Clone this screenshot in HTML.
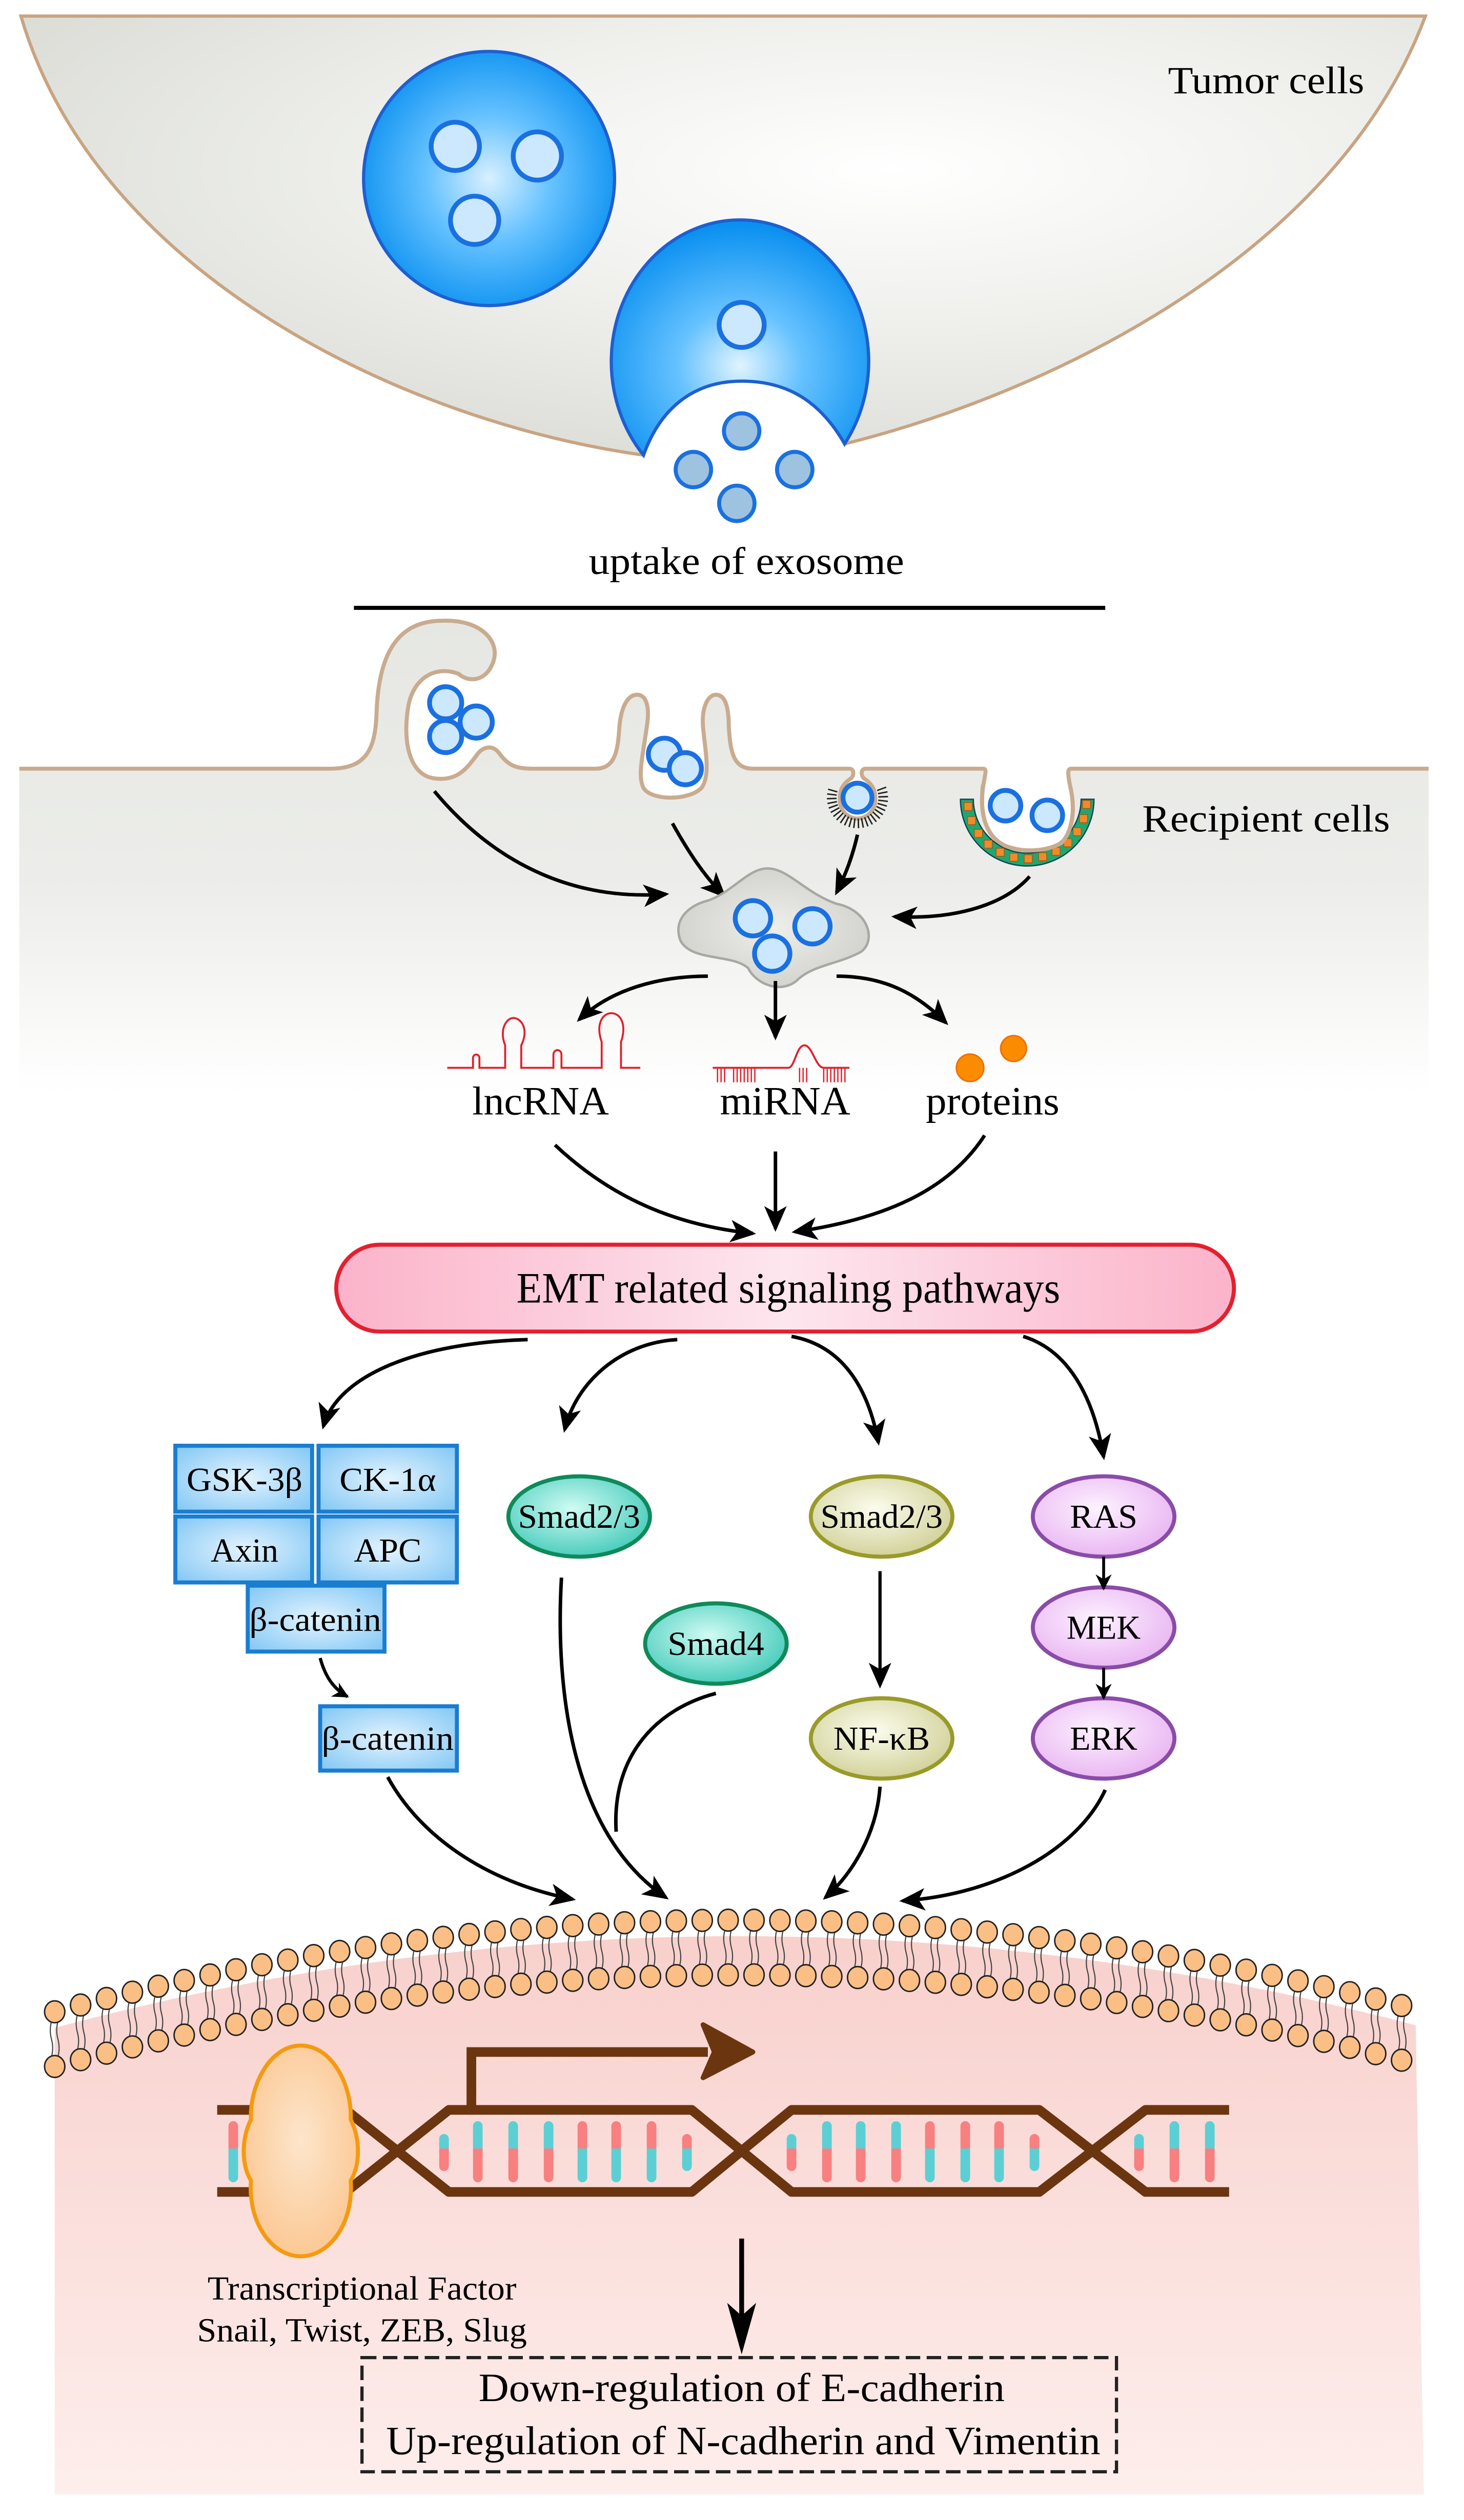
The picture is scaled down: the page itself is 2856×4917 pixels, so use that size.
<!DOCTYPE html>
<html><head><meta charset="utf-8">
<style>
html,body{margin:0;padding:0;background:#fff;}
svg{display:block;}
text{font-family:"Liberation Serif","Times New Roman",serif;fill:#000;}
</style></head>
<body>
<svg id="s" xmlns="http://www.w3.org/2000/svg" width="2856" height="4917" viewBox="0 0 910 1567" preserveAspectRatio="none">
<defs>
<radialGradient id="tumorG" cx="0.62" cy="0.35" r="0.7">
<stop offset="0" stop-color="#ffffff"/><stop offset="0.5" stop-color="#eff0ec"/><stop offset="1" stop-color="#dcddd7"/>
</radialGradient>
<radialGradient id="sphG" cx="0.5" cy="0.5" r="0.55">
<stop offset="0" stop-color="#d8f0ff"/><stop offset="0.45" stop-color="#66c2ff"/><stop offset="1" stop-color="#0a90f0"/>
</radialGradient>
<radialGradient id="sph2G" cx="0.5" cy="0.62" r="0.6">
<stop offset="0" stop-color="#e0f4ff"/><stop offset="0.4" stop-color="#66c2ff"/><stop offset="1" stop-color="#0a90f0"/>
</radialGradient>
<linearGradient id="recG" x1="0" y1="0" x2="0" y2="1">
<stop offset="0" stop-color="#e6e7e2"/><stop offset="0.55" stop-color="#ecedea"/><stop offset="1" stop-color="#ffffff"/>
</linearGradient>
<radialGradient id="endoG" cx="0.5" cy="0.5" r="0.6">
<stop offset="0" stop-color="#eeeeea"/><stop offset="1" stop-color="#cfcfca"/>
</radialGradient>
<linearGradient id="emtG" x1="0" y1="0" x2="1" y2="0">
<stop offset="0" stop-color="#fbb3ca"/><stop offset="0.5" stop-color="#fde6ee"/><stop offset="1" stop-color="#fbb3ca"/>
</linearGradient>
<radialGradient id="boxG" cx="0.5" cy="0.5" r="0.7">
<stop offset="0" stop-color="#e4f4ff"/><stop offset="1" stop-color="#80c6f4"/>
</radialGradient>
<radialGradient id="tealG" cx="0.45" cy="0.4" r="0.65">
<stop offset="0" stop-color="#d0fbf4"/><stop offset="1" stop-color="#40c9b8"/>
</radialGradient>
<radialGradient id="oliveG" cx="0.45" cy="0.4" r="0.65">
<stop offset="0" stop-color="#fcfcee"/><stop offset="1" stop-color="#cfcf95"/>
</radialGradient>
<radialGradient id="purpG" cx="0.45" cy="0.4" r="0.65">
<stop offset="0" stop-color="#fdf2ff"/><stop offset="1" stop-color="#e8b2f2"/>
</radialGradient>
<linearGradient id="pinkG" x1="0" y1="0" x2="0" y2="1">
<stop offset="0" stop-color="#f8d0cc"/><stop offset="1" stop-color="#fdeeec"/>
</linearGradient>
<radialGradient id="tfG" cx="0.5" cy="0.45" r="0.6">
<stop offset="0" stop-color="#fde6cc"/><stop offset="1" stop-color="#fbc690"/>
</radialGradient>
<marker id="ah" markerUnits="userSpaceOnUse" markerWidth="18" markerHeight="16" refX="14" refY="7" orient="auto">
<path d="M0,0 L16,7 L0,14 L4,7 Z" fill="#000"/>
</marker>
<marker id="ahs" markerUnits="userSpaceOnUse" markerWidth="12" markerHeight="12" refX="9" refY="5" orient="auto">
<path d="M0,0 L10,5 L0,10 L3,5 Z" fill="#000"/>
</marker>
</defs>

<path d="M13,10 C60,170 250,262 400,283 C410,255 430,237 461,237 C490,237 510,250 525,276 C650,245 830,160 886,10 Z" fill="url(#tumorG)" stroke="#c8a482" stroke-width="2"/>
<text x="787" y="58" font-size="24" text-anchor="middle" textLength="122" lengthAdjust="spacingAndGlyphs">Tumor cells</text>

<ellipse cx="304" cy="111" rx="78" ry="79" fill="url(#sphG)" stroke="#1e5fd0" stroke-width="2"/>
<g fill="#cce8ff" stroke="#1a70e0" stroke-width="3">
<circle cx="283" cy="91" r="15"/><circle cx="334" cy="97" r="15"/><circle cx="295" cy="137" r="15"/>
</g>
<path d="M400,283 A80,88 0 1 1 525,276 C510,250 490,237 461,237 C430,237 410,255 400,283 Z" fill="url(#sph2G)" stroke="#1e5fd0" stroke-width="2"/>
<circle cx="461" cy="202" r="14" fill="#cce8ff" stroke="#1a70e0" stroke-width="3"/>
<g fill="#9ec3e0" stroke="#1a70e0" stroke-width="2.5">
<circle cx="461" cy="268" r="11"/><circle cx="431" cy="292" r="11"/><circle cx="494" cy="292" r="11"/><circle cx="458" cy="313" r="11"/>
</g>
<text x="464" y="357" font-size="24" text-anchor="middle" textLength="196" lengthAdjust="spacingAndGlyphs">uptake of exosome</text>
<line x1="220" y1="378" x2="687" y2="378" stroke="#000" stroke-width="2.5"/>

<path d="M12,478 H205 C226,478 233,468 234,445 C235,405 248,386 275,386 C300,385 312,400 306,413 C302,423 292,425 285,419 C272,414 258,420 254,438 C250,460 254,482 270,484 C284,486 290,478 296,470 C300,464 306,463 310,468 C316,476 320,478 332,478 H370 C382,478 384,468 385,452 C386,440 390,432 396,432 C402,432 404,440 402,452 C400,468 396,482 400,490 C405,498 428,498 436,490 C442,482 438,465 437,452 C436,440 440,432 445,432 C451,432 453,440 453,452 C454,468 456,478 468,478 H528 C531,478 531,482 529,484 C523,488 522,492 522,497 C522,505 528,509 533,509 C538,509 544,505 544,497 C544,492 543,488 537,484 C535,482 535,478 538,478 H611 C614,478 612,482 611,490 C609,505 612,520 625,526 C635,530 650,530 660,524 C668,515 668,500 665,488 C664,482 663,478 666,478 H888 V680 H12 Z" fill="url(#recG)"/>
<path d="M12,478 H205 C226,478 233,468 234,445 C235,405 248,386 275,386 C300,385 312,400 306,413 C302,423 292,425 285,419 C272,414 258,420 254,438 C250,460 254,482 270,484 C284,486 290,478 296,470 C300,464 306,463 310,468 C316,476 320,478 332,478 H370 C382,478 384,468 385,452 C386,440 390,432 396,432 C402,432 404,440 402,452 C400,468 396,482 400,490 C405,498 428,498 436,490 C442,482 438,465 437,452 C436,440 440,432 445,432 C451,432 453,440 453,452 C454,468 456,478 468,478 H528 C531,478 531,482 529,484 C523,488 522,492 522,497 C522,505 528,509 533,509 C538,509 544,505 544,497 C544,492 543,488 537,484 C535,482 535,478 538,478 H611 C614,478 612,482 611,490 C609,505 612,520 625,526 C635,530 650,530 660,524 C668,515 668,500 665,488 C664,482 663,478 666,478 H888" fill="none" stroke="#c9ab8f" stroke-width="2.5"/>
<g id="comb" stroke="#222" stroke-width="0.9"></g>
<path d="M597,497 A41.5,41.5 0 0 0 680,497 L672,497 A33.5,33.5 0 0 1 605,497 Z" fill="#1ea870" stroke="#145" stroke-width="0.8"/>
<g id="orange" fill="#f08a2a" stroke="#a05010" stroke-width="0.4"></g>
<path d="M611,488 C609,505 612,520 625,526 C635,530 650,530 660,524 C668,515 668,500 665,488" fill="none" stroke="#c9ab8f" stroke-width="2.5"/>
<g fill="#cce8ff" stroke="#1a70e0" stroke-width="3">
<circle cx="277" cy="437" r="10"/><circle cx="296" cy="449" r="10"/><circle cx="277" cy="458" r="10"/>
<circle cx="413" cy="469" r="10"/><circle cx="426" cy="478" r="10"/>
<circle cx="533" cy="496" r="9"/>
<circle cx="625" cy="501" r="9.5"/><circle cx="651" cy="507" r="9.5"/>
</g>
<text x="787" y="517" font-size="24" text-anchor="middle" textLength="154" lengthAdjust="spacingAndGlyphs">Recipient cells</text>

<g fill="none" stroke="#000" stroke-width="2.2" marker-end="url(#ah)">
<path d="M270,492 C310,540 360,560 414,556"/>
<path d="M418,512 C428,530 438,545 450,557"/>
<path d="M533,519 C530,532 526,543 520,555"/>
<path d="M640,545 C625,562 595,572 556,570"/>
</g>
<path d="M440,560 C455,555 465,540 477,540 C490,540 500,555 520,562 C540,566 545,585 535,592 C520,600 505,600 495,610 C485,618 470,612 465,602 C455,593 430,598 423,585 C418,572 428,563 440,560 Z" fill="url(#endoG)" stroke="#a8a8a2" stroke-width="1.5"/>
<g fill="#cce8ff" stroke="#1a70e0" stroke-width="3">
<circle cx="468" cy="571" r="11"/><circle cx="505" cy="576" r="11"/><circle cx="480" cy="593" r="11"/>
</g>
<g fill="none" stroke="#000" stroke-width="2.2" marker-end="url(#ah)">
<path d="M440,607 C410,607 380,615 360,634"/>
<path d="M482,610 L482,645"/>
<path d="M520,607 C550,607 570,618 588,636"/>
</g>

<path d="M278,664 H294 V658 C294,655 298,655 298,658 V664 H314 V650 C310,640 315,633 319,633 C324,633 329,640 324,650 V664 H344 V656 C344,652 349,652 349,656 V664 H374 V648 C370,636 375,630 380,630 C385,630 390,636 386,648 V664 H398" fill="none" stroke="#e0202a" stroke-width="1.2"/>
<path d="M443,664 H490 C494,664 495,650 500,650 C505,650 507,664 512,664 H528" fill="none" stroke="#e0202a" stroke-width="1.2"/>
<g stroke="#e0202a" stroke-width="0.8" id="ticks"></g>
<circle cx="603" cy="664" r="8.5" fill="#fb8c00" stroke="#f07000"/>
<circle cx="630" cy="652" r="8" fill="#fb8c00" stroke="#f07000"/>
<text x="336" y="693" font-size="25" text-anchor="middle" textLength="85" lengthAdjust="spacingAndGlyphs">lncRNA</text>
<text x="488" y="693" font-size="25" text-anchor="middle" textLength="81" lengthAdjust="spacingAndGlyphs">miRNA</text>
<text x="617" y="693" font-size="25" text-anchor="middle" textLength="83" lengthAdjust="spacingAndGlyphs">proteins</text>
<g fill="none" stroke="#000" stroke-width="2.2" marker-end="url(#ah)">
<path d="M345,712 C380,745 420,762 468,767"/>
<path d="M482,716 L482,764"/>
<path d="M612,706 C590,740 550,758 494,766"/>
</g>

<rect x="209" y="774" width="558" height="54" rx="27" fill="url(#emtG)" stroke="#e3202f" stroke-width="2.5"/>
<text x="490" y="810" font-size="27" text-anchor="middle" textLength="338" lengthAdjust="spacingAndGlyphs">EMT related signaling pathways</text>

<g fill="none" stroke="#000" stroke-width="2.2" marker-end="url(#ah)">
<path d="M328,833 C260,835 210,855 201,887"/>
<path d="M421,833 C385,835 358,860 351,889"/>
<path d="M492,831 C525,837 540,865 546,897"/>
<path d="M636,831 C665,840 680,870 686,906"/>
</g>

<g fill="url(#boxG)" stroke="#1a7dd0" stroke-width="2.5">
<rect x="109" y="899" width="85" height="41"/>
<rect x="198" y="899" width="86" height="41"/>
<rect x="109" y="943" width="85" height="41"/>
<rect x="198" y="943" width="86" height="41"/>
<rect x="154" y="986" width="85" height="41"/>
<rect x="199" y="1061" width="85" height="40"/>
</g>
<g font-size="21" text-anchor="middle">
<text x="152" y="927" textLength="72" lengthAdjust="spacingAndGlyphs">GSK-3β</text>
<text x="241" y="927" textLength="60" lengthAdjust="spacingAndGlyphs">CK-1α</text>
<text x="152" y="971" textLength="42" lengthAdjust="spacingAndGlyphs">Axin</text>
<text x="241" y="971" textLength="42" lengthAdjust="spacingAndGlyphs">APC</text>
<text x="196" y="1014" textLength="82" lengthAdjust="spacingAndGlyphs">β-catenin</text>
<text x="241" y="1088" textLength="82" lengthAdjust="spacingAndGlyphs">β-catenin</text>
</g>
<path d="M199,1031 C202,1042 207,1050 216,1055" fill="none" stroke="#000" stroke-width="2" marker-end="url(#ahs)"/>

<g stroke-width="2.5">
<ellipse cx="360" cy="943" rx="44" ry="25" fill="url(#tealG)" stroke="#0f8a5a"/>
<ellipse cx="445" cy="1022" rx="44" ry="25" fill="url(#tealG)" stroke="#0f8a5a"/>
<ellipse cx="548" cy="943" rx="44" ry="25" fill="url(#oliveG)" stroke="#9a9a2a"/>
<ellipse cx="548" cy="1081" rx="44" ry="25" fill="url(#oliveG)" stroke="#9a9a2a"/>
<ellipse cx="686" cy="943" rx="44" ry="25" fill="url(#purpG)" stroke="#8a4ca8"/>
<ellipse cx="686" cy="1012" rx="44" ry="25" fill="url(#purpG)" stroke="#8a4ca8"/>
<ellipse cx="686" cy="1081" rx="44" ry="25" fill="url(#purpG)" stroke="#8a4ca8"/>
</g>
<g font-size="21" text-anchor="middle">
<text x="360" y="950" textLength="76" lengthAdjust="spacingAndGlyphs">Smad2/3</text>
<text x="445" y="1029" textLength="60" lengthAdjust="spacingAndGlyphs">Smad4</text>
<text x="548" y="950" textLength="76" lengthAdjust="spacingAndGlyphs">Smad2/3</text>
<text x="548" y="1088" textLength="60" lengthAdjust="spacingAndGlyphs">NF-κB</text>
<text x="686" y="950" textLength="42" lengthAdjust="spacingAndGlyphs">RAS</text>
<text x="686" y="1019" textLength="46" lengthAdjust="spacingAndGlyphs">MEK</text>
<text x="686" y="1088" textLength="42" lengthAdjust="spacingAndGlyphs">ERK</text>
</g>
<g fill="none" stroke="#000" stroke-width="1.8" marker-end="url(#ahs)">
<path d="M686,968 L686,988"/>
<path d="M686,1037 L686,1056"/>
</g>
<path d="M547,977 L547,1048" fill="none" stroke="#000" stroke-width="2" marker-end="url(#ah)"/>

<g fill="none" stroke="#000" stroke-width="2.2">
<path d="M241,1105 C260,1140 300,1170 356,1181" marker-end="url(#ah)"/>
<path d="M349,981 C345,1050 355,1140 414,1180" marker-end="url(#ah)"/>
<path d="M445,1053 C410,1062 380,1090 383,1139"/>
<path d="M547,1111 C545,1140 530,1165 513,1180" marker-end="url(#ah)"/>
<path d="M687,1113 C670,1150 620,1178 561,1182" marker-end="url(#ah)"/>
</g>

<path id="pink" fill="url(#pinkG)" d=""/>
<g id="lipids"></g>

<g id="bases"></g>
<g fill="none" stroke="#6b3510" stroke-width="6" stroke-linejoin="round">
<path d="M135,1312 H215 L279,1363 H430 L492,1312 H646 L712,1363 H764"/>
<path d="M135,1363 H215 L279,1312 H430 L492,1363 H646 L712,1312 H764"/>
</g>
<path d="M293,1310 V1276 H440" fill="none" stroke="#6b3510" stroke-width="6"/>
<path d="M437,1259 L468,1276 L437,1292 L444,1276 Z" fill="#6b3510" stroke="#6b3510" stroke-width="3" stroke-linejoin="round"/>
<path d="M187,1272 C207,1272 219,1298 218,1318 C224,1330 224,1346 218,1356 C220,1382 205,1403 187,1403 C169,1403 154,1382 156,1356 C150,1346 150,1330 156,1318 C155,1298 167,1272 187,1272 Z" fill="url(#tfG)" stroke="#f59a10" stroke-width="2.5"/>
<text x="225" y="1430" font-size="21" text-anchor="middle" textLength="192" lengthAdjust="spacingAndGlyphs">Transcriptional Factor</text>
<text x="225" y="1456" font-size="21" text-anchor="middle" textLength="205" lengthAdjust="spacingAndGlyphs">Snail, Twist, ZEB, Slug</text>
<line x1="461" y1="1392" x2="461" y2="1440" stroke="#000" stroke-width="3"/>
<path d="M452,1432 L461,1464 L470,1432 L461,1440 Z" fill="#000"/>
<rect x="225" y="1466" width="469" height="71" fill="none" stroke="#222" stroke-width="2" stroke-dasharray="9,4"/>
<text x="461" y="1493" font-size="25" text-anchor="middle" textLength="327" lengthAdjust="spacingAndGlyphs">Down-regulation of E-cadherin</text>
<text x="462" y="1526" font-size="25" text-anchor="middle" textLength="444" lengthAdjust="spacingAndGlyphs">Up-regulation of N-cadherin and Vimentin</text>

<script>
(function(){
var NS="http://www.w3.org/2000/svg";
function el(p,t,a){var e=document.createElementNS(NS,t);for(var k in a)e.setAttribute(k,a[k]);p.appendChild(e);return e;}
function yt(x){return 1194+0.000314*(x-460)*(x-460);}
var d="M34,"+(yt(34)+10).toFixed(1);
for(var x=40;x<=885;x+=6){d+=" L"+x+","+(yt(x)+10).toFixed(1);}
d+=" L885,1551 L34,1551 Z";
document.getElementById("pink").setAttribute("d",d);
var L=document.getElementById("lipids");
for(var i=0;i<53;i++){
 var x=34+i*16.1, t=yt(x), b=t+34;
 el(L,"path",{d:"M"+(x-2)+","+(t+6)+" q-1.5,5.5 0,11 q1.5,5.5 0,11",fill:"none",stroke:"#444","stroke-width":"0.7"});
 el(L,"path",{d:"M"+(x+2)+","+(t+6)+" q-1.5,5.5 0,11 q1.5,5.5 0,11",fill:"none",stroke:"#444","stroke-width":"0.7"});
 el(L,"ellipse",{cx:x,cy:t,rx:6.3,ry:6.8,fill:"#fbbf85",stroke:"#222","stroke-width":"0.9"});
 el(L,"ellipse",{cx:x,cy:b,rx:6.3,ry:6.8,fill:"#fbbf85",stroke:"#222","stroke-width":"0.9"});
}
var B=document.getElementById("bases");
var R="#f88080",C="#5ccfd4";
var bs=[[145,0,1],[276,1,0],[297,1,1],[319,1,1],[341,1,1],[362,0,1],[383,0,1],[405,0,1],[427,0,0],
[492,1,0],[514,1,1],[535,1,1],[557,1,1],[578,0,1],[600,0,1],[621,0,1],[643,0,0],[708,1,0],[730,1,1],[752,1,1]];
bs.forEach(function(q){
 var x=q[0], top=q[1]?C:R, bot=q[1]?R:C, y1=q[2]?1319:1327, y2=q[2]?1357:1350;
 el(B,"rect",{x:x-3,y:y1,width:6,height:1338-y1,rx:3,fill:top});
 el(B,"rect",{x:x-3,y:1338,width:6,height:y2-1338,rx:3,fill:bot});
 el(B,"rect",{x:x-3,y:1336,width:6,height:4,fill:bot});
});
var Cm=document.getElementById("comb");
for(var a=-20;a<=200;a+=9){var r=a*Math.PI/180;
 el(Cm,"line",{x1:533+13*Math.cos(r),y1:496+13*Math.sin(r),x2:533+19*Math.cos(r),y2:496+19*Math.sin(r)});}
var O=document.getElementById("orange");
for(var a=5;a<=175;a+=14){var r=a*Math.PI/180;
 var cx=638.5+37*Math.cos(r), cy=497+37*Math.sin(r);
 el(O,"rect",{x:cx-2.5,y:cy-2.5,width:5,height:5});}
var T=document.getElementById("ticks");
[[446,452],[456,470],[497,502],[512,526]].forEach(function(g){for(var x=g[0];x<=g[1];x+=2.2){el(T,"line",{x1:x,y1:664,x2:x,y2:673});}});
})();
</script>
</svg>
</body></html>
